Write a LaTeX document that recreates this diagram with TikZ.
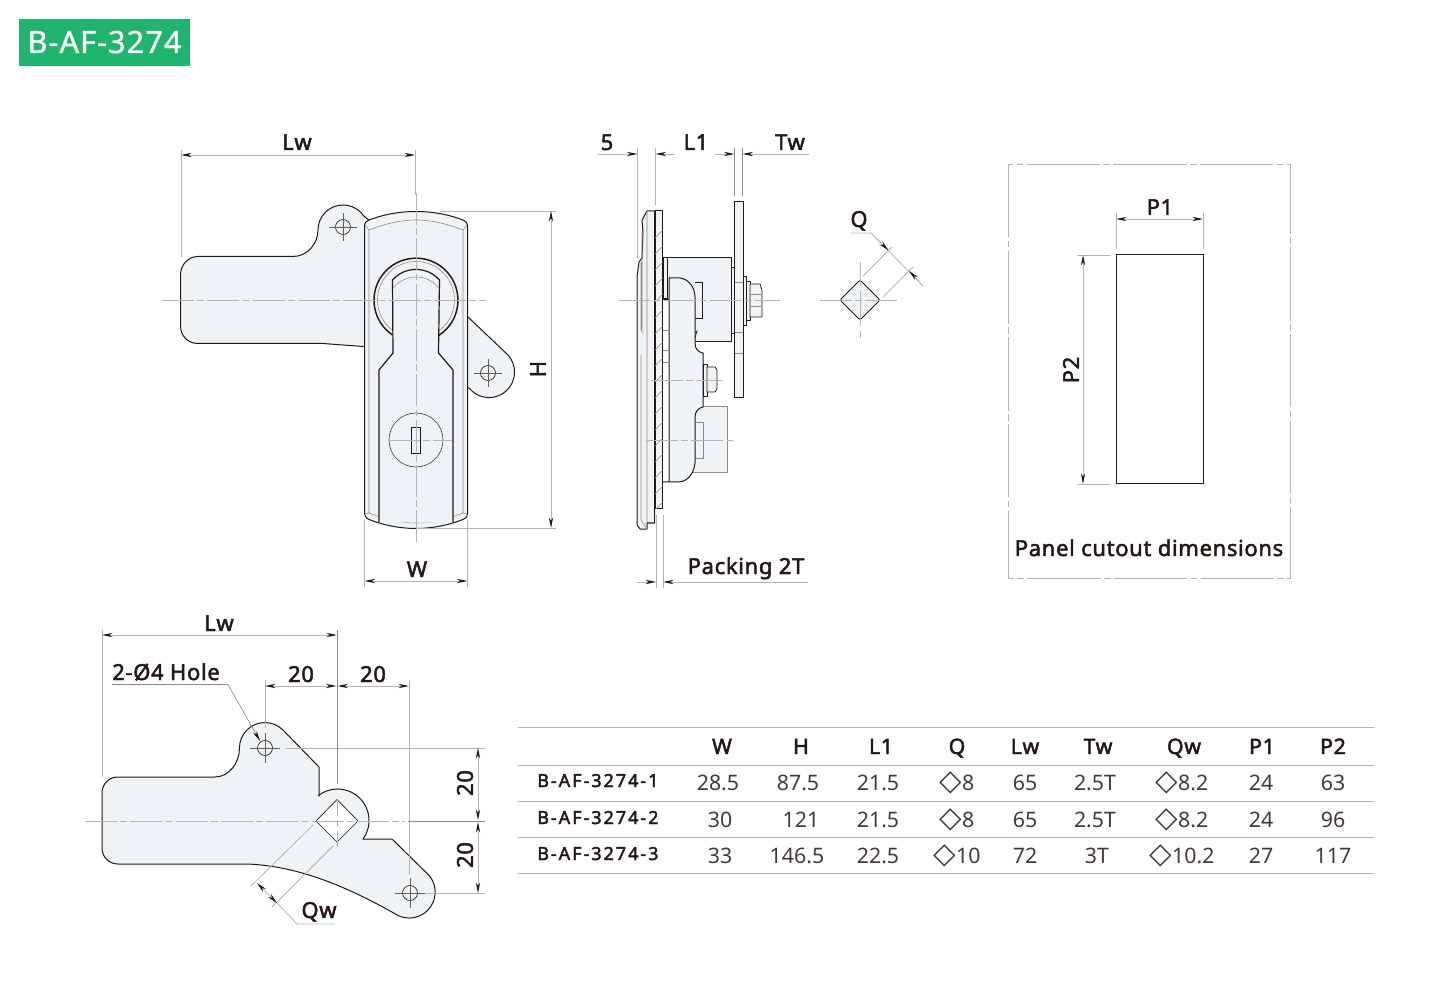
\documentclass[tikz,border=0pt]{standalone}
\usepackage{fontspec}
\usetikzlibrary{arrows.meta}
\setmainfont{Noto Sans}
\newfontfamily\lab[FakeBold=2.2,LetterSpace=3]{Noto Sans}
\newfontfamily\mdl[FakeBold=2.2,LetterSpace=11]{Noto Sans}
\newfontfamily\ttl[FakeBold=1,LetterSpace=3.5]{Noto Sans}
\newfontfamily\sym{DejaVu Sans}
\definecolor{ink}{HTML}{231815}
\definecolor{soft}{HTML}{EFF3F6}
\definecolor{gr}{HTML}{B4B4B4}
\definecolor{mid}{HTML}{8C8C8C}
\definecolor{grn}{HTML}{1FB56F}
\newcommand{\dia}{{\sym\fontsize{22pt}{22pt}\selectfont ◇}}
\tikzset{
  x=0.75pt,y=-0.75pt,
  part/.style={draw=ink,line width=0.75pt,fill=soft,line join=round},
  thin part/.style={draw=ink,line width=0.5pt},
  fine/.style={draw=mid,line width=0.45pt},
  ext/.style={draw=gr,line width=0.6pt},
  extd/.style={draw=mid,line width=0.6pt},
  dimarrow/.style={draw=gr,line width=0.6pt,-{Stealth[length=8pt,width=3.2pt,color=ink]}},
  dimboth/.style={draw=gr,line width=0.6pt,{Stealth[length=8pt,width=3.2pt,color=ink]}-{Stealth[length=8pt,width=3.2pt,color=ink]}},
  centre/.style={draw=gr,line width=0.6pt,dash pattern=on 24pt off 2.5pt on 5pt off 2.5pt},
  label/.style={inner sep=0,anchor=base,text=ink,font=\fontsize{16.5pt}{18pt}\lab},
  rlabel/.style={inner sep=0,anchor=center,rotate=90,text=ink,font=\fontsize{16.5pt}{18pt}\lab},
  head/.style={inner sep=0,anchor=base,text=ink,font=\fontsize{16pt}{18pt}\lab},
  cell/.style={inner sep=0,anchor=base,text=ink!85,font=\fontsize{16pt}{18pt}\selectfont},
  model/.style={inner sep=0,anchor=base west,text=ink,font=\fontsize{13.5pt}{16pt}\mdl},
  rule/.style={draw=gr,line width=0.75pt},
}
\begin{document}
\begin{tikzpicture}
\useasboundingbox (0,0) rectangle (1450,1005);
% title
\fill[grn] (19,19) rectangle (190,66);
\node[inner sep=0,anchor=base,text=white,font=\fontsize{23pt}{26pt}\ttl] (title) at (104.5,53) {B-AF-3274};

%%%%% FRONT VIEW
\path[part] (370,347) -- (323,343.5) -- (198,343.5) .. controls (188,343.5) and (180.5,336) .. (180.5,326)
  -- (180.5,275) .. controls (180.5,265) and (188,256.5) .. (198,256.5) -- (293,256.5)
  .. controls (308,256.5) and (318,243) .. (318,230) arc[start angle=180,end angle=325,radius=25] -- (375,225) -- cycle;
\path[part] (462,312) -- (468,317) -- (508,355) arc[start angle=-42,end angle=140,radius=25.5] -- (462,385) -- cycle;
\path[part] (364.5,226) .. controls (365,222.5) and (366,221) .. (369,220) .. controls (385,214) and (400,211.5) .. (416,211.5)
  .. controls (432,211.5) and (447,214) .. (463,220) .. controls (466,221) and (467,222.5) .. (467.5,226) -- (467.5,513)
  .. controls (467.5,516) and (466.5,518) .. (464,519) .. controls (450,525) and (432,528.5) .. (416,528.5)
  .. controls (400,528.5) and (382,525) .. (368,519) .. controls (366,518) and (364.5,516) .. (364.5,513) -- cycle;
\draw[fine] (369,230) .. controls (385,224) and (400,220) .. (416,220) .. controls (432,220) and (447,224) .. (463,230);
\draw[fine] (369,513) .. controls (385,519) and (400,523) .. (416,523) .. controls (432,523) and (447,519) .. (463,513);
\draw[fine] (369,230) -- (369,513) (463,230) -- (463,513) (365,225) -- (369,230) (467,225) -- (463,230) (365,514) -- (369,513) (467,514) -- (463,513);
% collar
\draw[fine] (416,300) ++(124:38.5) arc[start angle=124,end angle=417,radius=38.5];
\draw[draw=ink,line width=1.1pt] (392.5,335) arc[start angle=124,end angle=417,radius=42];
% grip
\path[part,line width=0.9pt] (379,522) -- (379,370) -- (393,353) -- (392.5,280) .. controls (400,272) and (408,269.5) .. (416,269.5)
  .. controls (424,269.5) and (432,272) .. (439.5,280) -- (438.5,353) -- (453,370) -- (453,523);
\draw[fine] (393,288) .. controls (400,280) and (408,277) .. (416,277) .. controls (424,277) and (432,280) .. (439,288);
% key
\draw[draw=ink!80,line width=0.5pt] (416,440) circle[radius=27];
\draw[draw=ink,line width=0.6pt] (411.5,427) rectangle (420,453);
% holes
\draw[thin part] (343,227) circle[radius=7.5];
\draw[thin part] (488,373) circle[radius=7.5];
\draw[draw=ink!70,line width=0.45pt] (329,227) -- (357,227) (343,213) -- (343,241) (474,373) -- (502,373) (488,359) -- (488,387);
% centre lines
\draw[centre] (162,300) -- (486,300);
\draw[centre] (416,193) -- (416,545);
\draw[centre] (388,440) -- (452,440);

% front dims
\draw[ext] (181,150) -- (181,257) (415,150) -- (415,195) (440,211) -- (556,211) (416,528) -- (556,528) (364.5,520) -- (364.5,587) (467.5,520) -- (467.5,587);
\draw[dimboth] (181,155) -- (415,155);
\draw[dimboth] (551,211) -- (551,528);
\draw[dimboth] (364.5,581) -- (467.5,581);
\node[label] (lwa) at (297,150) {Lw};
\node[rlabel] (ha) at (538,369) {H};
\node[label] (wa) at (417,577) {W};

%%%%% SIDE VIEW
% hand plate
\draw[ext] (637.5,148) -- (637.5,258);
\draw[ext] (655.5,148) -- (655.5,205);
\path[part] (643,232) -- (642,220) -- (647,211) -- (654.5,211) -- (654.5,523) -- (647,523) -- (647,529) -- (640,529) -- (637,525) -- (637,277) -- (639,262) -- (642,258) -- cycle;
\draw[fine] (647,211) -- (647,523) (641,262) -- (641,330) -- (643,333) (641,355) -- (641,520) -- (647,529) (642,232) -- (642,330);
\draw[thin part] (654.5,211) -- (654.5,523);
% packing
\path[part] (655,211) rectangle (662.5,509);
\begin{scope}
\clip (655,211) rectangle (662.5,509);
\foreach \yy in {238,254,...,520} \draw[mid,line width=0.5pt] (655,\yy) -- (663,\yy-8);
\end{scope}
% upper block
\path[part] (663,258) -- (731,258) -- (731,342) -- (690,342) -- (690,300) -- (663,300) -- cycle;
\draw[thin part] (667,258) -- (667,298) -- (663,298);
% lower block
\path[part,draw=mid] (690,407) -- (727,407) -- (727,473) -- (690,473) -- cycle;
\draw[fine] (695,422) -- (703,422) -- (703,458) -- (695,458);
% cam
\path[part] (663,482) -- (669,482) -- (669,278) -- (680,278) .. controls (689,279) and (695,288) .. (695,297)
  -- (695,343) .. controls (695,349) and (698,352) .. (703,353) -- (703,407) .. controls (698,408) and (695,412) .. (695,417)
  -- (695,463) .. controls (694,473) and (688,482) .. (678,482) -- (669,482);
\draw[thin part] (695,282) -- (702,282) -- (702,318) -- (695,318);
\draw[fine] (663,330) -- (669,330) (663,350) -- (669,350) (663,362) -- (669,362);
\draw[thin part] (695,333) -- (697,331) -- (695,338);
% spacer and plate
\path[part,line width=0.5pt] (731,267) rectangle (734.5,333);
\path[part] (734.5,202) rectangle (743,398);
\draw[fine] (734.5,282) -- (743,282) (734.5,332) -- (743,332) (734.5,353) -- (743,353);
% washer & bolt
\path[part,line width=0.5pt] (743,276) rectangle (746,325);
\path[part,line width=0.5pt] (746,281) rectangle (750,320);
\path[part,line width=0.6pt] (750,284) -- (760,284) -- (762,290) -- (762,317) -- (750,317) -- cycle;
\draw[fine] (750,294) -- (761,294) (750,306) -- (761,306);
% nut
\path[part,line width=0.6pt] (703,364) rectangle (707,396);
\path[part,line width=0.6pt] (707,367) -- (715,367) -- (717,370) -- (717,389) -- (715,392) -- (707,392) -- cycle;
\draw[fine] (707,380) -- (717,380);
% side centre lines
\draw[centre] (619,300) -- (780,300);
\draw[centre] (651,380) -- (723,380);
\draw[centre] (646,440) -- (735,440);

% side dims
\draw[extd] (734.5,148) -- (734.5,196) (742.5,148) -- (742.5,196);
\draw[dimarrow] (598,154) -- (637.5,154);
\draw[dimarrow] (675,154) -- (655.5,154);
\draw[dimarrow] (715,154) -- (734.5,154);
\draw[dimarrow] (809,154) -- (742.5,154);
\node[label] (d5) at (607,150) {5};
\node[label] (dl1) at (696,150) {L1};
\node[label] (dtw) at (790,150) {Tw};
\draw[ext] (656,515) -- (656,588) (663,515) -- (663,588);
\draw[dimarrow] (637,582) -- (656,582);
\draw[dimarrow] (808,582) -- (663,582);
\node[label] (pk) at (746,574) {Packing 2T};

%%%%% Q SQUARE
\path[part,rounded corners=1.5pt] (840,300) -- (860,280) -- (880,300) -- (860,320) -- cycle;
\draw[centre] (820,300) -- (898,300);
\draw[centre,dash pattern=on 18pt off 4pt on 26pt off 4pt on 18pt] (860,262) -- (860,338);
\draw[ext] (863,276) -- (892,247) (883,297) -- (913,267);
\draw[ext] (851,233) -- (871,233) -- (923,286);
\draw[dimarrow] (875,237) -- (888.5,250.5);
\draw[dimarrow] (919,281) -- (909,271);
\node[label] (qa) at (859,227) {Q};

%%%%% PANEL
\draw[centre,dash pattern=on 55pt off 2.5pt on 5pt off 2.5pt] (1008,164) rectangle (1290,578);
\draw[draw=ink,line width=0.75pt] (1116,255) rectangle (1203,484);
\draw[ext] (1116,213) -- (1116,249) (1203,213) -- (1203,249) (1077,255) -- (1110,255) (1077,484) -- (1110,484);
\draw[dimboth] (1116,219) -- (1203,219);
\draw[dimboth] (1083,255) -- (1083,484);
\node[label] (p1a) at (1160,215) {P1};
\node[rlabel] (p2a) at (1071,370) {P2};
\node[label] (pcd) at (1149,556) {Panel cutout dimensions};

%%%%% HANDLE DETAIL
\path[part] (319,796) -- (319,767) -- (283,730) arc[start angle=315,end angle=180,radius=25.5]
  .. controls (239.5,763) and (229,777) .. (215,777) -- (118,777) .. controls (109,777) and (102,784) .. (102,793)
  -- (102,848) .. controls (102,857) and (109,864) .. (118,864) -- (247,864)
  .. controls (300,866) and (350,888) .. (399,916) arc[start angle=113,end angle=-39,radius=26]
  -- (392,839) -- (363,839) arc[start angle=36,end angle=-127,radius=31.5] -- cycle;
\path[draw=ink,line width=0.5pt,fill=white] (316,821) -- (337,799.5) -- (358,821) -- (337,842) -- cycle;
\draw[thin part] (265,748) circle[radius=7.5];
\draw[thin part] (410,893) circle[radius=7.5];
\draw[draw=ink!70,line width=0.45pt] (250,748) -- (280,748) (265,733) -- (265,763) (395,893) -- (425,893) (410,878) -- (410,908);
\draw[centre] (85,821) -- (405,821);
\draw[centre,dash pattern=on 12pt off 3pt on 5pt off 3pt on 12pt] (337,800) -- (337,850);
% handle dims
\draw[ext] (102,630) -- (102,777) (265,680) -- (265,728) (409,680) -- (409,875) (286,748) -- (485,748) (425,893) -- (485,893);
\draw[extd] (337,630) -- (337,784);
\draw[extd] (408,821) -- (485,821);
\draw[dimboth] (102,635) -- (337,635);
\draw[dimboth] (265,686) -- (336.5,686);
\draw[dimboth] (337.5,686) -- (409,686);
\draw[dimboth] (478,748) -- (478,820);
\draw[dimboth] (478,822) -- (478,893);
\node[label] (lwb) at (219,631) {Lw};
\node[label] (t1) at (301,682) {20};
\node[label] (t2) at (373,682) {20};
\node[rlabel] (r1) at (465,783) {20};
\node[rlabel] (r2) at (465,855) {20};
\node[label,anchor=base west] (hole) at (112,680) {2-Ø4 Hole};
\draw[draw=mid,line width=0.6pt] (112,684.5) -- (228,684.5);
\draw[draw=mid,line width=0.5pt,-{Stealth[length=8pt,width=3.2pt,color=ink]}] (228,684.5) -- (260,741);
\draw[ext] (313,825) -- (251,886) (333,846) -- (272,907);
\draw[dimarrow] (267,893) -- (257,883);
\draw[dimarrow] (267,893) -- (277,903);
\draw[ext] (277,903) -- (297,924) -- (335,924);
\node[label] (qwa) at (319,918) {Qw};

%%%%% TABLE
\foreach \yy in {727.5,765,801,837,873} \draw[rule] (518,\yy) -- (1374,\yy);
\node[head] (hw) at (722,754) {W};
\node[head] (hh) at (801,754) {H};
\node[head] (hl) at (881,754) {L1};
\node[head] (hq) at (957,754) {Q};
\node[head] (hlw) at (1025,754) {Lw};
\node[head] (htw) at (1098,754) {Tw};
\node[head] (hqw) at (1184,754) {Qw};
\node[head] (hp1) at (1262,754) {P1};
\node[head] (hp2) at (1333,754) {P2};
\node[model] (m1) at (537,787) {B-AF-3274-1};
\node[model] (m2) at (537,824) {B-AF-3274-2};
\node[model] (m3) at (537,860) {B-AF-3274-3};
% row 1
\node[cell] (a1) at (718,790) {28.5};
\node[cell] (a2) at (798,790) {87.5};
\node[cell] (a3) at (878,790) {21.5};
\node[cell] (a4) at (957,790) {\dia8};
\node[cell] (a5) at (1025,790) {65};
\node[cell] (a6) at (1095,790) {2.5T};
\node[cell] (a7) at (1182,790) {\dia8.2};
\node[cell] (a8) at (1261,790) {24};
\node[cell] (a9) at (1333,790) {63};
% row 2
\node[cell] (b1) at (720,827) {30};
\node[cell] (b2) at (801,827) {121};
\node[cell] (b3) at (878,827) {21.5};
\node[cell] (b4) at (957,827) {\dia8};
\node[cell] (b5) at (1025,827) {65};
\node[cell] (b6) at (1095,827) {2.5T};
\node[cell] (b7) at (1182,827) {\dia8.2};
\node[cell] (b8) at (1261,827) {24};
\node[cell] (b9) at (1333,827) {96};
% row 3
\node[cell] (c1) at (720,863) {33};
\node[cell] (c2) at (797,863) {146.5};
\node[cell] (c3) at (878,863) {22.5};
\node[cell] (c4) at (957,863) {\dia10};
\node[cell] (c5) at (1025,863) {72};
\node[cell] (c6) at (1097,863) {3T};
\node[cell] (c7) at (1182,863) {\dia10.2};
\node[cell] (c8) at (1261,863) {27};
\node[cell] (c9) at (1333,863) {117};
\end{tikzpicture}
\end{document}
